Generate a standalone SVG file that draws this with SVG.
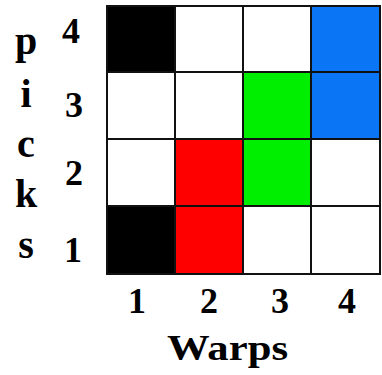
<svg xmlns="http://www.w3.org/2000/svg" width="382" height="375" viewBox="0 0 382 375">
<style>
.t{font-weight:bold;fill:#000;}
.n{font-size:36px;text-anchor:middle;}
.l{font-size:40px;text-anchor:middle;}
.c{stroke:#111;stroke-width:2;}
</style>
<rect width="382" height="375" fill="#fff"/>
<g id="cells" class="c">
<rect id="c1-4" x="107" y="6" width="68" height="66" fill="#000"/>
<rect id="c2-4" x="175" y="6" width="68" height="66" fill="#fff"/>
<rect id="c3-4" x="243" y="6" width="68" height="66" fill="#fff"/>
<rect id="c4-4" x="311" y="6" width="69" height="66" fill="#0a76f6"/>
<rect id="c1-3" x="107" y="72" width="68" height="67" fill="#fff"/>
<rect id="c2-3" x="175" y="72" width="68" height="67" fill="#fff"/>
<rect id="c3-3" x="243" y="72" width="68" height="67" fill="#00ef00"/>
<rect id="c4-3" x="311" y="72" width="69" height="67" fill="#0a76f6"/>
<rect id="c1-2" x="107" y="139" width="68" height="67" fill="#fff"/>
<rect id="c2-2" x="175" y="139" width="68" height="67" fill="#ff0000"/>
<rect id="c3-2" x="243" y="139" width="68" height="67" fill="#00ef00"/>
<rect id="c4-2" x="311" y="139" width="69" height="67" fill="#fff"/>
<rect id="c1-1" x="107" y="206" width="68" height="68" fill="#000"/>
<rect id="c2-1" x="175" y="206" width="68" height="68" fill="#ff0000"/>
<rect id="c3-1" x="243" y="206" width="68" height="68" fill="#fff"/>
<rect id="c4-1" x="311" y="206" width="69" height="68" fill="#fff"/>
</g>
<g font-family="'Liberation Serif', 'Times New Roman', Times, serif">
<g id="picks" class="t l">
<text x="26" y="54">p</text>
<text x="26" y="107">i</text>
<text x="26" y="157">c</text>
<text x="26" y="207">k</text>
<text x="26" y="258">s</text>
</g>
<g id="rows" class="t n">
<text x="71" y="43">4</text>
<text x="74" y="117">3</text>
<text x="74" y="185">2</text>
<text x="73" y="262">1</text>
</g>
<g id="cols" class="t n">
<text x="137" y="313">1</text>
<text x="209" y="313">2</text>
<text x="280" y="313">3</text>
<text x="347" y="313">4</text>
</g>
<text id="warps" class="t" x="167" y="360" font-size="36" textLength="121" lengthAdjust="spacingAndGlyphs">Warps</text>
</g>
</svg>
